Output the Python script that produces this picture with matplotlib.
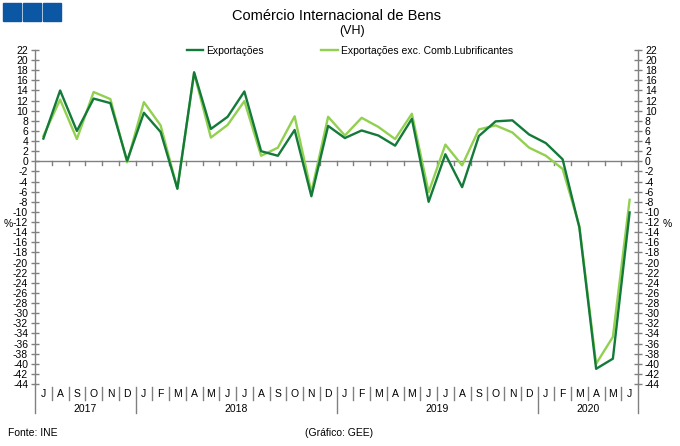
import matplotlib
matplotlib.use("Agg")
import matplotlib.pyplot as plt
import matplotlib.transforms as mtransforms
from matplotlib.patches import Rectangle
import numpy as np

plt.rcParams['font.family'] = ['Liberation Sans', 'DejaVu Sans']

months = ["J", "A", "S", "O", "N", "D",
          "J", "F", "M", "A", "M", "J", "J", "A", "S", "O", "N", "D",
          "J", "F", "M", "A", "M", "J", "J", "A", "S", "O", "N", "D",
          "J", "F", "M", "A", "M", "J"]
years = ["2017", "2018", "2019", "2020"]
year_counts = [6, 12, 12, 6]

exportacoes = [4.5, 14.0, 6.0, 12.4, 11.5, 0.1,
               9.6, 5.8, -5.4, 17.6, 6.4, 8.8, 13.8, 2.0, 1.1, 6.2, -6.9, 7.0,
               4.6, 6.1, 5.1, 3.1, 8.4, -8.0, 1.4, -5.1, 5.0, 7.9, 8.1, 5.3,
               3.6, 0.4, -13.1, -41.0, -39.0, -10.1]
exp_exc_comb = [5.0, 12.2, 4.4, 13.7, 12.3, -0.2,
                11.7, 7.1, -5.4, 17.4, 4.7, 7.2, 11.9, 1.1, 2.7, 8.9, -6.1, 8.8,
                5.1, 8.6, 6.8, 4.4, 9.4, -6.1, 3.3, -0.8, 6.3, 7.1, 5.7, 2.7,
                1.1, -1.5, -12.8, -40.0, -34.7, -7.6]

yticks = list(range(-44, 23, 2))

W, H = 680, 446
fig = plt.figure(figsize=(W / 100, H / 100), dpi=100)
ax = fig.add_axes([35 / W, (H - 384) / H, (638 - 35) / W, (384 - 50) / H])

dark = '#137a3a'
light = '#92d050'
gray = '#808080'

x = np.arange(len(months))
ax.plot(x, exportacoes, color=dark, lw=1.7, label='Exportações', zorder=4)
ax.plot(x, exp_exc_comb, color=light, lw=1.7, label='Exportações exc. Comb.Lubrificantes', zorder=3)

ax.set_xlim(-0.5, len(months) - 0.5)
ax.set_ylim(-44, 22)

for s in ['top', 'bottom']:
    ax.spines[s].set_visible(False)
for s in ['left', 'right']:
    ax.spines[s].set_color(gray)
    ax.spines[s].set_linewidth(1.0)

ax.set_xticks([])
ax.set_yticks(yticks)
ax.set_yticklabels([str(v) for v in yticks])
ax.tick_params(axis='y', which='both', direction='inout', length=6, width=1.0,
               color=gray, labelsize=7.5, pad=2, left=True, right=True,
               labelleft=True, labelright=True)

# zero line with ticks at month boundaries
ax.axhline(0, color=gray, lw=1.0, zorder=2)
for b in np.arange(0.5, len(months) - 1, 1.0):
    ax.plot([b, b], [0, -0.7], color=gray, lw=1.0, zorder=2)

# extend side spines below
ah = 384 - 50
ext = -(413 - 384) / ah
ax.plot([0, 0], [0, ext], transform=ax.transAxes, color=gray, lw=1.0, clip_on=False)
ax.plot([1, 1], [0, ext], transform=ax.transAxes, color=gray, lw=1.0, clip_on=False)

# month labels and separators
bt = mtransforms.blended_transform_factory(ax.transData, ax.transAxes)
for i, m in enumerate(months):
    ax.text(i, -(394 - 384) / ah, m, transform=bt, ha='center', va='center', fontsize=7.5)
year_bounds = np.cumsum(year_counts)
for b in range(1, len(months)):
    if b in year_bounds:
        continue
    ax.plot([b - 0.5, b - 0.5], [-(387 - 384) / ah, -(400 - 384) / ah], transform=bt,
            color=gray, lw=1.0, clip_on=False)
start = 0
for y, c in zip(years, year_counts):
    end = start + c
    if end < len(months):
        ax.plot([end - 0.5, end - 0.5], [-(387 - 384) / ah, ext], transform=bt,
                color=gray, lw=1.0, clip_on=False)
    ax.text((start + end - 1) / 2, -(409 - 384) / ah, y, transform=bt,
            ha='center', va='center', fontsize=7.5)
    start = end

# % labels
fig.text(8 / W, 1 - 224 / H, '%', ha='center', va='center', fontsize=7.5)
fig.text(667 / W, 1 - 224 / H, '%', ha='center', va='center', fontsize=7.5)

# title
fig.text(337 / W, 1 - 16 / H, 'Comércio Internacional de Bens', ha='center', va='center', fontsize=10.5)
fig.text(352 / W, 1 - 31 / H, '(VH)', ha='center', va='center', fontsize=9)

# legend
leg = fig.legend(loc='center', bbox_to_anchor=(350 / W, 1 - 51 / H), ncol=2, frameon=False,
                 fontsize=7.5, handlelength=1.6, handletextpad=0.3, columnspacing=5.5)

# logo squares
for x0 in [3, 23, 43]:
    fig.patches.append(Rectangle((x0 / W, 1 - 21 / H), 18 / W, 18 / H,
                                 transform=fig.transFigure, color='#0b57a4'))

fig.text(8 / W, 1 - 433 / H, 'Fonte: INE', ha='left', va='center', fontsize=7.5)
fig.text(305 / W, 1 - 433 / H, '(Gráfico: GEE)', ha='left', va='center', fontsize=7.5)

fig.savefig('out.png', dpi=100)
